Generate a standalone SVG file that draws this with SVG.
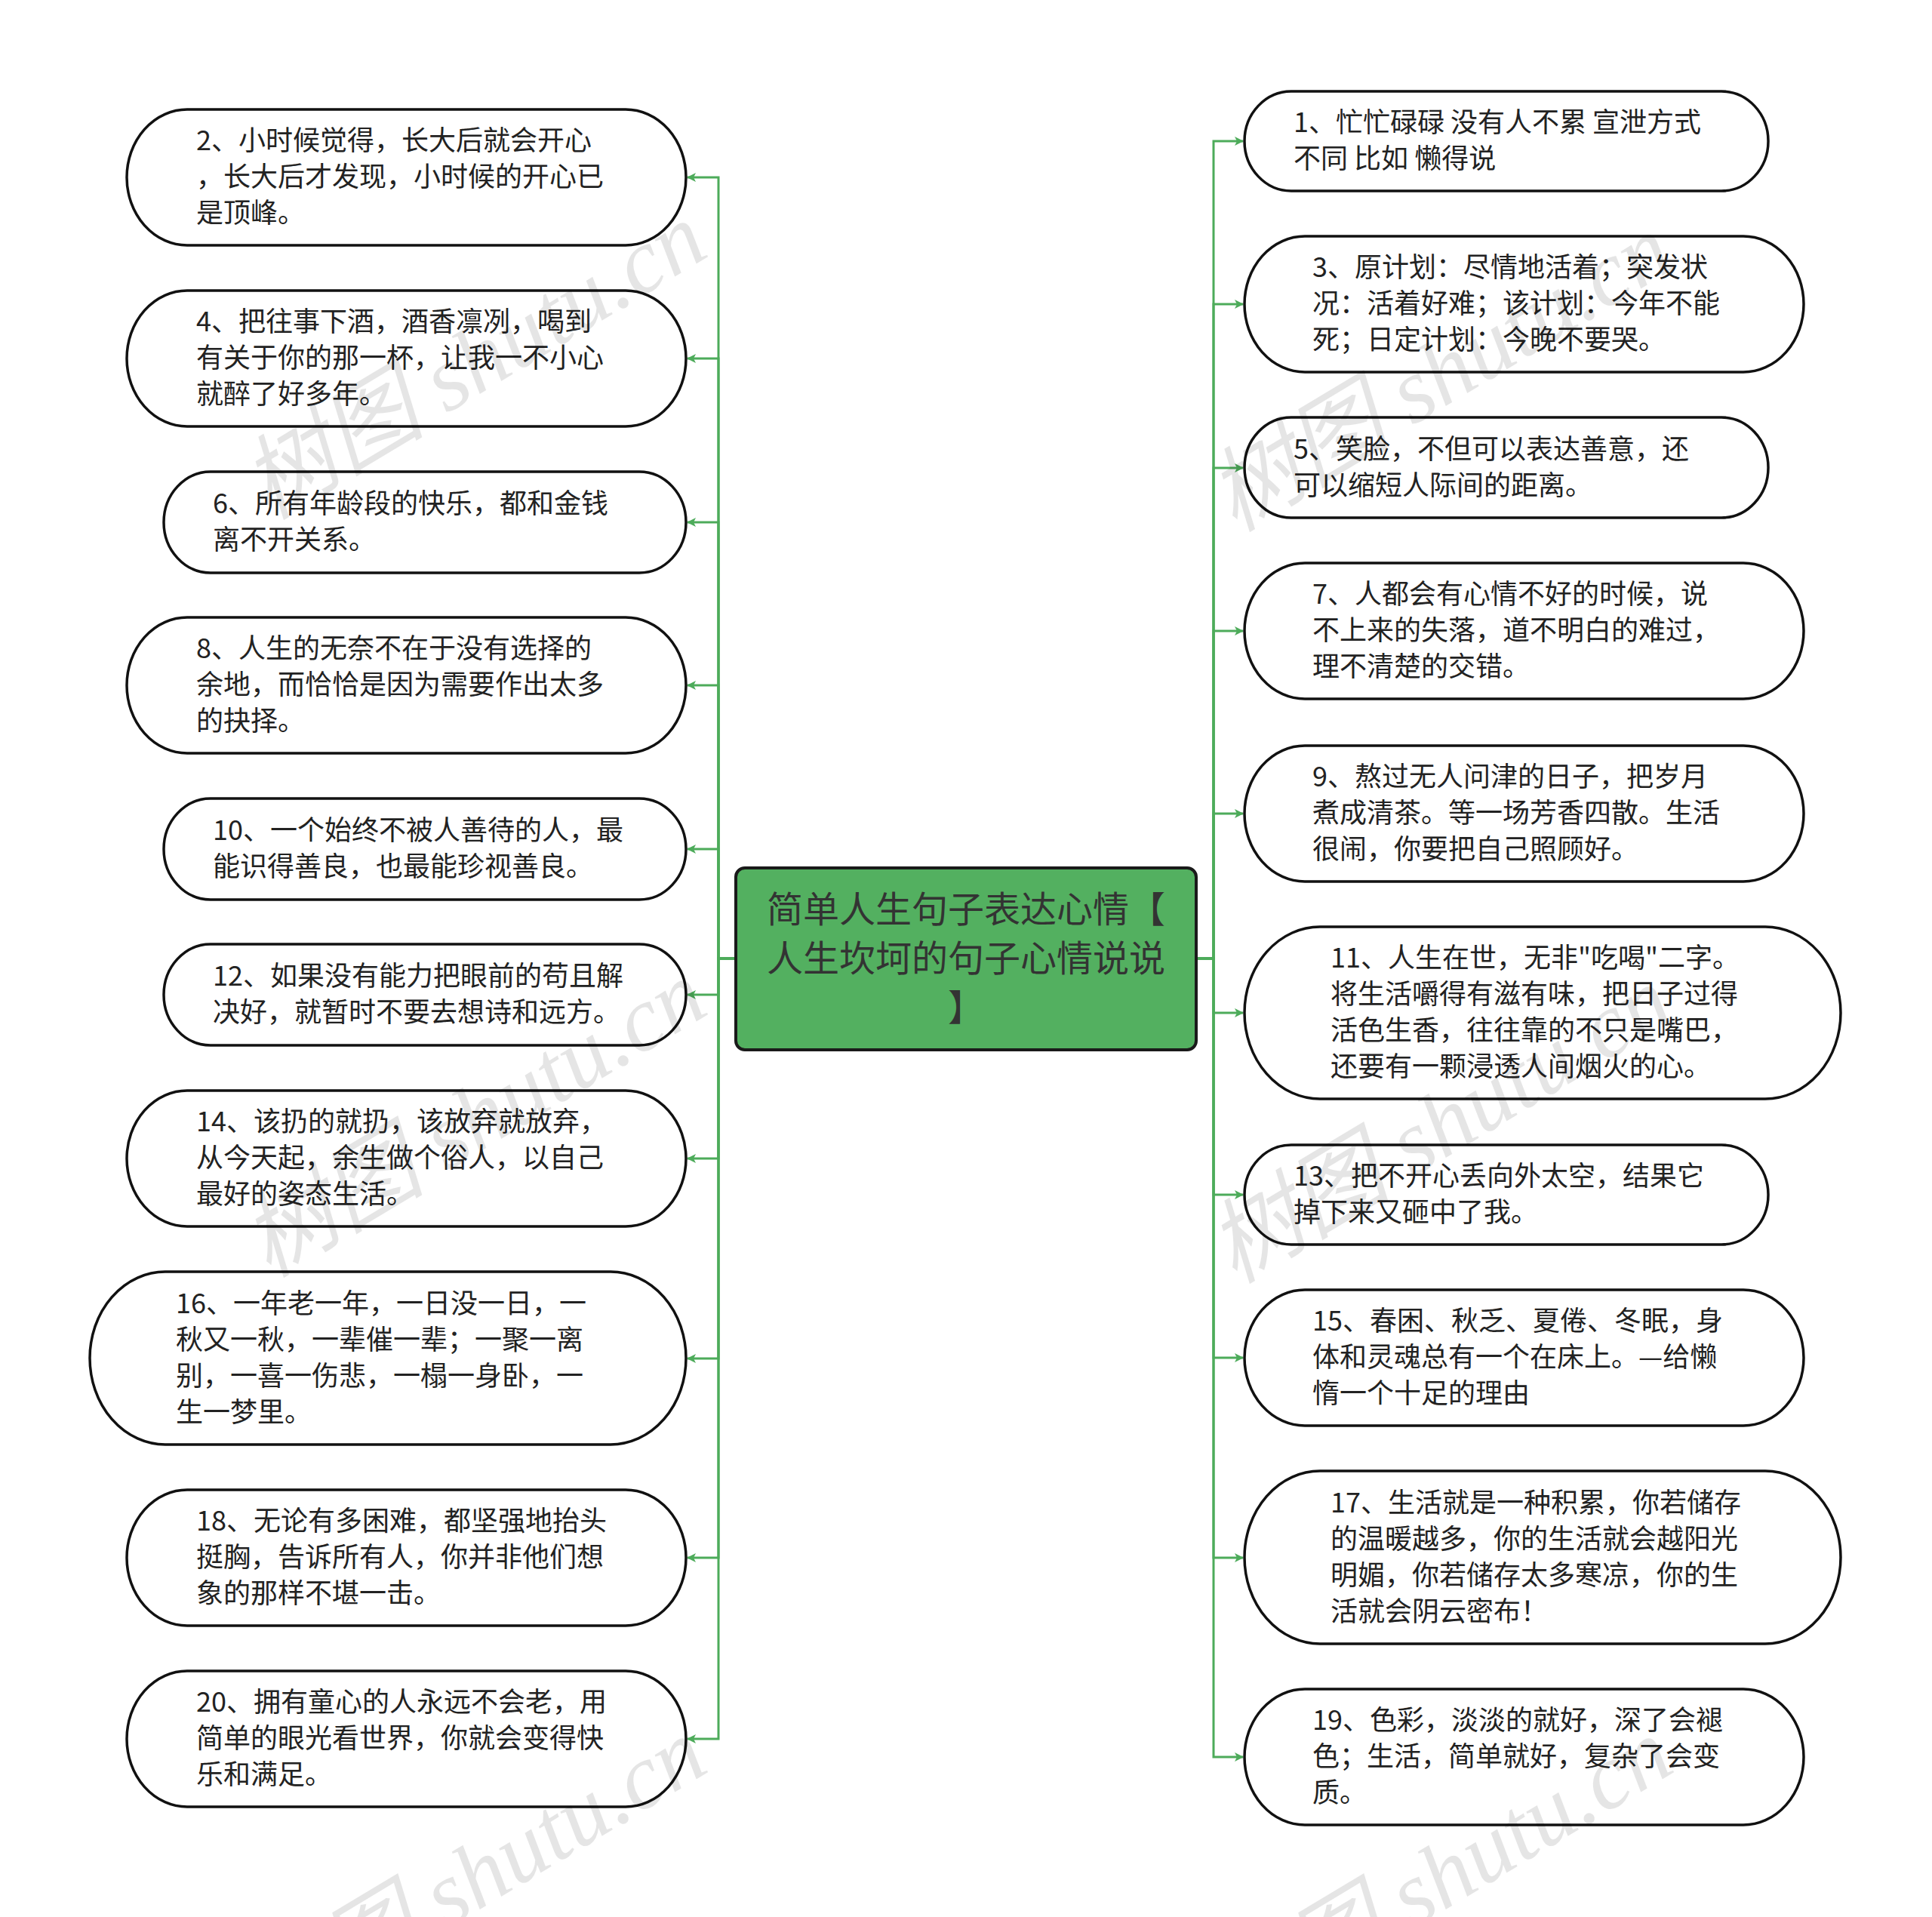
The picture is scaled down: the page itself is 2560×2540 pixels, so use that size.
<svg xmlns="http://www.w3.org/2000/svg" width="2560" height="2540" viewBox="0 0 2560 2540">
<defs>
<style>
.node{fill:#fff;stroke:#111;stroke-width:3.5}
.t{font-family:"Noto Sans CJK SC","Noto Sans",sans-serif;font-size:36px;fill:#222}
.ct{font-family:"Noto Sans CJK SC","Noto Sans",sans-serif;font-size:48px;fill:#333;text-anchor:middle}
.cn{fill:none;stroke:#4dab5a;stroke-width:3}
.wm{font-family:"Liberation Serif","Noto Sans CJK SC",serif;font-style:italic;font-size:122px;fill:#000;fill-opacity:0.1}
</style>
<marker id="ar" viewBox="0 0 12 12" refX="11" refY="6" markerWidth="12" markerHeight="12" markerUnits="userSpaceOnUse" orient="auto">
<path d="M0,0 L12,6 L0,12 L3,6 Z" fill="#4dab5a"/>
</marker>
</defs>
<rect width="2560" height="2540" fill="#fff"/>

<g id="connectors">
<path class="cn" d="M975,1270 H952 V235 H911" marker-end="url(#ar)"/>
<path class="cn" d="M975,1270 H952 V475 H911" marker-end="url(#ar)"/>
<path class="cn" d="M975,1270 H952 V692 H911" marker-end="url(#ar)"/>
<path class="cn" d="M975,1270 H952 V908 H911" marker-end="url(#ar)"/>
<path class="cn" d="M975,1270 H952 V1125 H911" marker-end="url(#ar)"/>
<path class="cn" d="M975,1270 H952 V1318 H911" marker-end="url(#ar)"/>
<path class="cn" d="M975,1270 H952 V1535 H911" marker-end="url(#ar)"/>
<path class="cn" d="M975,1270 H952 V1800 H911" marker-end="url(#ar)"/>
<path class="cn" d="M975,1270 H952 V2064 H911" marker-end="url(#ar)"/>
<path class="cn" d="M975,1270 H952 V2304 H911" marker-end="url(#ar)"/>
<path class="cn" d="M1585,1270 H1608 V187 H1647" marker-end="url(#ar)"/>
<path class="cn" d="M1585,1270 H1608 V403 H1647" marker-end="url(#ar)"/>
<path class="cn" d="M1585,1270 H1608 V620 H1647" marker-end="url(#ar)"/>
<path class="cn" d="M1585,1270 H1608 V836 H1647" marker-end="url(#ar)"/>
<path class="cn" d="M1585,1270 H1608 V1078 H1647" marker-end="url(#ar)"/>
<path class="cn" d="M1585,1270 H1608 V1342 H1647" marker-end="url(#ar)"/>
<path class="cn" d="M1585,1270 H1608 V1583 H1647" marker-end="url(#ar)"/>
<path class="cn" d="M1585,1270 H1608 V1799 H1647" marker-end="url(#ar)"/>
<path class="cn" d="M1585,1270 H1608 V2064 H1647" marker-end="url(#ar)"/>
<path class="cn" d="M1585,1270 H1608 V2328 H1647" marker-end="url(#ar)"/>
</g>

<g id="center">
<rect x="975" y="1150" width="610" height="241" rx="12" fill="#53b060" stroke="#1a1a1a" stroke-width="4"/>
<text class="ct" x="1280" y="1222">简单人生句子表达心情【</text>
<text class="ct" x="1280" y="1287">人生坎坷的句子心情说说</text>
<text class="ct" x="1280" y="1352">】</text>
</g>

<g id="n2"><rect class="node" x="168" y="145" width="741" height="180" rx="80" ry="90"/>
<text class="t" x="260" y="199">2、小时候觉得，长大后就会开心</text>
<text class="t" x="260" y="247">，长大后才发现，小时候的开心已</text>
<text class="t" x="260" y="295">是顶峰。</text></g>

<g id="n4"><rect class="node" x="168" y="385" width="741" height="180" rx="80" ry="90"/>
<text class="t" x="260" y="439">4、把往事下酒，酒香凛冽，喝到</text>
<text class="t" x="260" y="487">有关于你的那一杯，让我一不小心</text>
<text class="t" x="260" y="535">就醉了好多年。</text></g>

<g id="n6"><rect class="node" x="217" y="625" width="692" height="134" rx="62" ry="67"/>
<text class="t" x="282" y="680">6、所有年龄段的快乐，都和金钱</text>
<text class="t" x="282" y="728">离不开关系。</text></g>

<g id="n8"><rect class="node" x="168" y="818" width="741" height="180" rx="80" ry="90"/>
<text class="t" x="260" y="872">8、人生的无奈不在于没有选择的</text>
<text class="t" x="260" y="920">余地，而恰恰是因为需要作出太多</text>
<text class="t" x="260" y="968">的抉择。</text></g>

<g id="n10"><rect class="node" x="217" y="1058" width="692" height="134" rx="62" ry="67"/>
<text class="t" x="282" y="1113">10、一个始终不被人善待的人，最</text>
<text class="t" x="282" y="1161">能识得善良，也最能珍视善良。</text></g>

<g id="n12"><rect class="node" x="217" y="1251" width="692" height="134" rx="62" ry="67"/>
<text class="t" x="282" y="1306">12、如果没有能力把眼前的苟且解</text>
<text class="t" x="282" y="1354">决好，就暂时不要去想诗和远方。</text></g>

<g id="n14"><rect class="node" x="168" y="1445" width="741" height="180" rx="80" ry="90"/>
<text class="t" x="260" y="1499">14、该扔的就扔，该放弃就放弃，</text>
<text class="t" x="260" y="1547">从今天起，余生做个俗人，以自己</text>
<text class="t" x="260" y="1595">最好的姿态生活。</text></g>

<g id="n16"><rect class="node" x="119" y="1685" width="790" height="229" rx="100" ry="114.5"/>
<text class="t" x="233" y="1740">16、一年老一年，一日没一日，一</text>
<text class="t" x="233" y="1788">秋又一秋，一辈催一辈；一聚一离</text>
<text class="t" x="233" y="1836">别，一喜一伤悲，一榻一身卧，一</text>
<text class="t" x="233" y="1884">生一梦里。</text></g>

<g id="n18"><rect class="node" x="168" y="1974" width="741" height="180" rx="80" ry="90"/>
<text class="t" x="260" y="2028">18、无论有多困难，都坚强地抬头</text>
<text class="t" x="260" y="2076">挺胸，告诉所有人，你并非他们想</text>
<text class="t" x="260" y="2124">象的那样不堪一击。</text></g>

<g id="n20"><rect class="node" x="168" y="2214" width="741" height="180" rx="80" ry="90"/>
<text class="t" x="260" y="2268">20、拥有童心的人永远不会老，用</text>
<text class="t" x="260" y="2316">简单的眼光看世界，你就会变得快</text>
<text class="t" x="260" y="2364">乐和满足。</text></g>

<g id="n1"><rect class="node" x="1649" y="121" width="694" height="132" rx="62" ry="66"/>
<text class="t" x="1714" y="175">1、忙忙碌碌 没有人不累 宣泄方式</text>
<text class="t" x="1714" y="223">不同 比如 懒得说</text></g>

<g id="n3"><rect class="node" x="1649" y="313" width="741" height="180" rx="80" ry="90"/>
<text class="t" x="1739" y="367">3、原计划：尽情地活着；突发状</text>
<text class="t" x="1739" y="415">况：活着好难；该计划：今年不能</text>
<text class="t" x="1739" y="463">死；日定计划：今晚不要哭。</text></g>

<g id="n5"><rect class="node" x="1649" y="553" width="694" height="133" rx="62" ry="66.5"/>
<text class="t" x="1714" y="608">5、笑脸，不但可以表达善意，还</text>
<text class="t" x="1714" y="656">可以缩短人际间的距离。</text></g>

<g id="n7"><rect class="node" x="1649" y="746" width="741" height="180" rx="80" ry="90"/>
<text class="t" x="1739" y="800">7、人都会有心情不好的时候，说</text>
<text class="t" x="1739" y="848">不上来的失落，道不明白的难过，</text>
<text class="t" x="1739" y="896">理不清楚的交错。</text></g>

<g id="n9"><rect class="node" x="1649" y="988" width="741" height="180" rx="80" ry="90"/>
<text class="t" x="1739" y="1042">9、熬过无人问津的日子，把岁月</text>
<text class="t" x="1739" y="1090">煮成清茶。等一场芳香四散。生活</text>
<text class="t" x="1739" y="1138">很闹，你要把自己照顾好。</text></g>

<g id="n11"><rect class="node" x="1649" y="1228" width="790" height="228" rx="100" ry="114"/>
<text class="t" x="1763" y="1282">11、人生在世，无非"吃喝"二字。</text>
<text class="t" x="1763" y="1330">将生活嚼得有滋有味，把日子过得</text>
<text class="t" x="1763" y="1378">活色生香，往往靠的不只是嘴巴，</text>
<text class="t" x="1763" y="1426">还要有一颗浸透人间烟火的心。</text></g>

<g id="n13"><rect class="node" x="1649" y="1517" width="694" height="132" rx="62" ry="66"/>
<text class="t" x="1714" y="1571">13、把不开心丢向外太空，结果它</text>
<text class="t" x="1714" y="1619">掉下来又砸中了我。</text></g>

<g id="n15"><rect class="node" x="1649" y="1709" width="741" height="180" rx="80" ry="90"/>
<text class="t" x="1739" y="1763">15、春困、秋乏、夏倦、冬眠，身</text>
<text class="t" x="1739" y="1811">体和灵魂总有一个在床上。—给懒</text>
<text class="t" x="1739" y="1859">惰一个十足的理由</text></g>

<g id="n17"><rect class="node" x="1649" y="1949" width="790" height="229" rx="100" ry="114.5"/>
<text class="t" x="1763" y="2004">17、生活就是一种积累，你若储存</text>
<text class="t" x="1763" y="2052">的温暖越多，你的生活就会越阳光</text>
<text class="t" x="1763" y="2100">明媚，你若储存太多寒凉，你的生</text>
<text class="t" x="1763" y="2148">活就会阴云密布！</text></g>

<g id="n19"><rect class="node" x="1649" y="2238" width="741" height="180" rx="80" ry="90"/>
<text class="t" x="1739" y="2292">19、色彩，淡淡的就好，深了会褪</text>
<text class="t" x="1739" y="2340">色；生活，简单就好，复杂了会变</text>
<text class="t" x="1739" y="2388">质。</text></g>

<g id="watermarks">
<text class="wm" transform="translate(356,690) rotate(-31)">树图 shutu.cn</text>
<text class="wm" transform="translate(356,1694) rotate(-31)">树图 shutu.cn</text>
<text class="wm" transform="translate(356,2698) rotate(-31)">树图 shutu.cn</text>
<text class="wm" transform="translate(1636,706) rotate(-31)">树图 shutu.cn</text>
<text class="wm" transform="translate(1636,1702) rotate(-31)">树图 shutu.cn</text>
<text class="wm" transform="translate(1636,2698) rotate(-31)">树图 shutu.cn</text>
</g>
</svg>
